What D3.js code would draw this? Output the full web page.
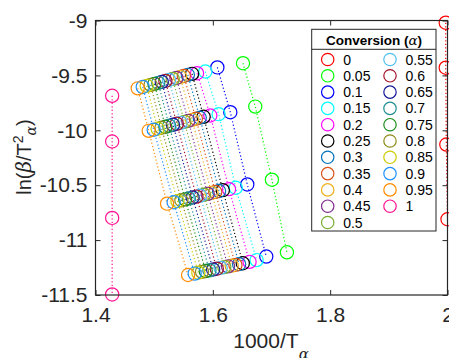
<!DOCTYPE html>
<html><head><meta charset="utf-8">
<script src="https://cdn.jsdelivr.net/npm/d3@7"></script>
<style>body{margin:0;background:#fff;}svg{display:block;}</style>
</head><body>
<svg id="chart" width="449" height="358"></svg>
<script>
// Conversion levels (alpha)
const conversions = ["0","0.05","0.1","0.15","0.2","0.25","0.3","0.35","0.4","0.45","0.5","0.55","0.6","0.65","0.7","0.75","0.8","0.85","0.9","0.95","1"];
const seriesColors = ["#ff0000","#00ff00","#0000ff","#00ffff","#ff00ff","#000000","#0072bd","#d95319","#edb120","#7e2f8e","#77ac30","#4dbeee","#a2142f","#1a1a99","#1f8f8f","#1a8c1a","#8c8c1a","#cccc00","#1e90ff","#ff8c00","#ff1493"];
// 1000/T_alpha for each heating rate (index = conversion)
const invT_b1 = [1.997,1.6514,1.6077,1.5872,1.5731,1.5646,1.5574,1.5506,1.5442,1.5379,1.5316,1.5253,1.5191,1.5130,1.5069,1.5004,1.4940,1.4873,1.4805,1.4720,1.4284];
const invT_b2 = [1.997,1.6723,1.6298,1.6099,1.5957,1.5843,1.5777,1.5711,1.5646,1.5581,1.5515,1.5450,1.5386,1.5321,1.5256,1.5191,1.5125,1.5059,1.4992,1.4907,1.4284];
const invT_b3 = [1.998,1.7007,1.6587,1.6391,1.6276,1.6170,1.6106,1.6041,1.5978,1.5913,1.5849,1.5784,1.5721,1.5656,1.5591,1.5528,1.5464,1.5397,1.5333,1.5220,1.4284];
const invT_b4 = [2.000,1.7263,1.6911,1.6746,1.6626,1.6511,1.6448,1.6385,1.6322,1.6259,1.6196,1.6133,1.6068,1.6005,1.5942,1.5879,1.5816,1.5753,1.5690,1.5578,1.4284];
// ln(beta/T^2) for each heating rate
const lnY_b1 = [-9.02,-9.389,-9.427,-9.465,-9.480,-9.486,-9.495,-9.505,-9.514,-9.523,-9.532,-9.541,-9.550,-9.559,-9.568,-9.577,-9.586,-9.595,-9.605,-9.618,-9.686];
const lnY_b2 = [-9.43,-9.784,-9.835,-9.853,-9.865,-9.877,-9.886,-9.895,-9.905,-9.914,-9.923,-9.932,-9.941,-9.950,-9.959,-9.968,-9.977,-9.986,-9.995,-10.005,-10.102];
const lnY_b3 = [-10.13,-10.45,-10.493,-10.523,-10.536,-10.545,-10.553,-10.561,-10.570,-10.579,-10.587,-10.595,-10.604,-10.612,-10.621,-10.629,-10.637,-10.645,-10.655,-10.668,-10.798];
const lnY_b4 = [-10.81,-11.111,-11.15,-11.182,-11.198,-11.211,-11.219,-11.226,-11.233,-11.239,-11.246,-11.253,-11.261,-11.268,-11.275,-11.282,-11.289,-11.297,-11.305,-11.318,-11.495];
const xTicks = [1.4,1.6,1.8,2];
const xTickLabels = ["1.4","1.6","1.8","2"];
const yTicks = [-9,-9.5,-10,-10.5,-11,-11.5];
const yTickLabels = ["-9","-9.5","-10","-10.5","-11","-11.5"];

const xs = [invT_b1,invT_b2,invT_b3,invT_b4];
const ys = [lnY_b1,lnY_b2,lnY_b3,lnY_b4];
const series = conversions.map((c,i)=>({name:c,color:seriesColors[i],pts:xs.map((xa,k)=>({x:xa[i],y:ys[k][i]}))}));

const svg = d3.select("#chart");
const L=95.5,R=447.5,T=20.5,B=295;
const x = d3.scaleLinear().domain([1.4,2]).range([L,R]);
const y = d3.scaleLinear().domain([-11.5,-9]).range([B,T]);
const axisCol="#262626";
const font="'Liberation Sans', Arial, Helvetica, sans-serif";

// data
const line = d3.line().x(d=>x(d.x)).y(d=>y(d.y));
const g = svg.append("g");
series.forEach(s=>{
  g.append("path").attr("d",line(s.pts)).attr("fill","none").attr("stroke",s.color)
   .attr("stroke-width",1.2).attr("stroke-dasharray","1.2,2.3");
});
series.forEach(s=>{
  g.selectAll(null).data(s.pts).enter().append("circle")
   .attr("cx",d=>x(d.x)).attr("cy",d=>y(d.y)).attr("r",6.6)
   .attr("fill","none").attr("stroke",s.color).attr("stroke-width",1.2);
});

// axes box
const ax = svg.append("g");
function styleAxis(sel){
  sel.select(".domain").remove();
  sel.selectAll("line").attr("stroke",axisCol).attr("stroke-width",1);
  sel.selectAll("text").attr("fill","#262626").style("font-family",font).style("font-size","21px");
}
ax.append("g").attr("transform",`translate(0,${B})`)
  .call(d3.axisBottom(x).tickValues(xTicks).tickFormat((d,i)=>xTickLabels[i]).tickSizeInner(-5).tickPadding(12))
  .call(styleAxis);
ax.append("g").attr("transform",`translate(0,${T})`)
  .call(d3.axisTop(x).tickValues(xTicks).tickFormat("").tickSizeInner(-5))
  .call(styleAxis);
ax.append("g").attr("transform",`translate(${L},0)`)
  .call(d3.axisLeft(y).tickValues(yTicks).tickFormat((d,i)=>yTickLabels[i]).tickSizeInner(-5).tickPadding(8))
  .call(styleAxis);
ax.append("g").attr("transform",`translate(${R},0)`)
  .call(d3.axisRight(y).tickValues(yTicks).tickFormat("").tickSizeInner(-5))
  .call(styleAxis);
svg.append("rect").attr("x",L).attr("y",T).attr("width",R-L).attr("height",B-T)
  .attr("fill","none").attr("stroke",axisCol).attr("stroke-width",1.2);

// axis titles
const xt = svg.append("text").attr("x",271).attr("y",348).attr("text-anchor","middle")
  .style("font-family",font).style("font-size","21px").attr("fill","#262626");
xt.append("tspan").text("1000/T");
xt.append("tspan").attr("dy",11).style("font-family","'DejaVu Serif', serif").style("font-style","italic").style("font-size","15px").text("α");

const yt = svg.append("text").attr("transform","translate(31,157) rotate(-90)").attr("text-anchor","middle")
  .style("font-family",font).style("font-size","20px").attr("fill","#262626");
yt.append("tspan").text("ln(");
yt.append("tspan").style("font-family","'DejaVu Serif', serif").style("font-style","italic").text("β");
yt.append("tspan").text("/T");
yt.append("tspan").attr("dy",-8).style("font-size","14px").text("2");
yt.append("tspan").attr("dy",13).style("font-family","'DejaVu Serif', serif").style("font-style","italic").style("font-size","14px").text("α");
yt.append("tspan").attr("dy",-5).text(")");

// legend
const lg = svg.append("g");
lg.append("rect").attr("x",311.7).attr("y",29.3).attr("width",124.3).attr("height",201.7)
  .attr("fill","#fff").attr("stroke",axisCol).attr("stroke-width",1);
lg.append("line").attr("x1",311.7).attr("x2",436).attr("y1",49.3).attr("y2",49.3).attr("stroke",axisCol).attr("stroke-width",1);
const lt = lg.append("text").attr("x",374).attr("y",44.5).attr("text-anchor","middle")
  .style("font-family",font).style("font-size","13.5px").style("font-weight","bold").attr("fill","#000");
lt.append("tspan").text("Conversion (");
lt.append("tspan").style("font-family","'DejaVu Serif', serif").style("font-style","italic").style("font-weight","normal").text("α");
lt.append("tspan").text(")");
series.forEach((s,i)=>{
  const col = i<11?0:1, row = i<11?i:i-11;
  const cx = col===0?327.7:390, cy = 59.5+row*16.3;
  lg.append("circle").attr("cx",cx).attr("cy",cy).attr("r",6.2).attr("fill","none").attr("stroke",s.color).attr("stroke-width",1.2);
  lg.append("text").attr("x",cx+15.5).attr("y",cy+5).style("font-family",font).style("font-size","14px").attr("fill","#000").text(s.name);
});
</script>
</body></html>
